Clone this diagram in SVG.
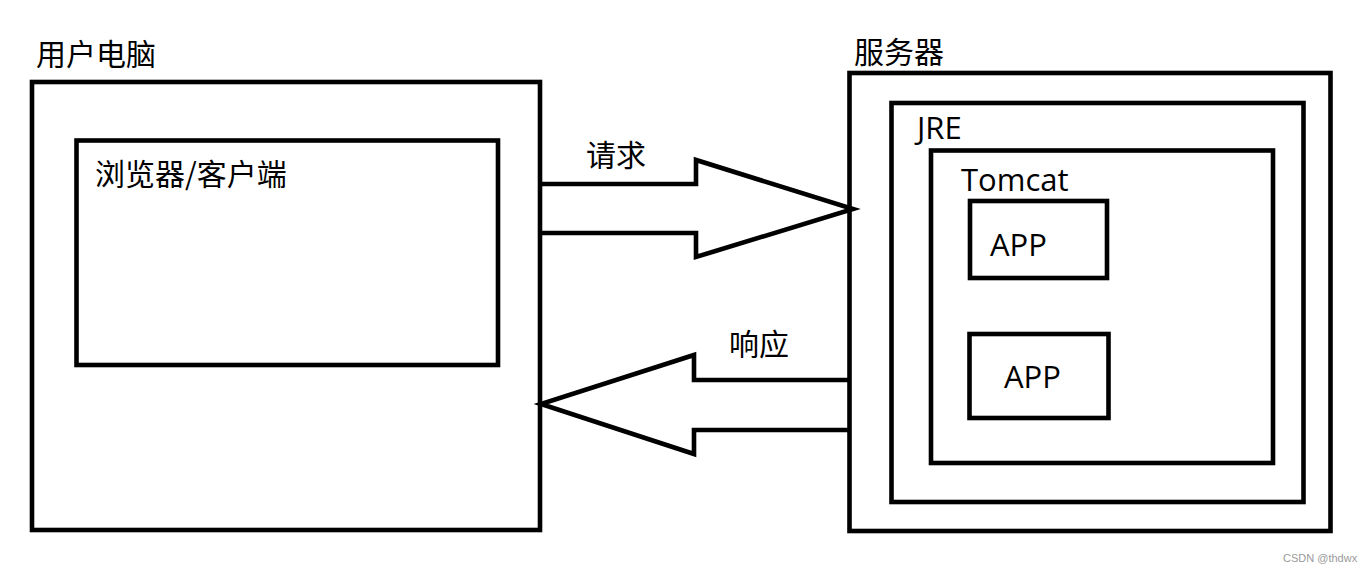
<svg xmlns="http://www.w3.org/2000/svg" width="1367" height="572" viewBox="0 0 1367 572">
<style>
.box{fill:none;stroke:#000;stroke-width:4.6}
.arrow{fill:none;stroke:#000;stroke-width:4.6;stroke-linejoin:miter}
.cn{font-family:"Noto Sans CJK SC","Noto Sans",sans-serif;font-size:30px;fill:#000}
.en{font-family:"Open Sans","Noto Sans",sans-serif;font-size:31px;fill:#000}
.wm{font-family:"Liberation Sans",Arial,sans-serif;font-size:11px;fill:#9a9a9a}
</style>
<rect width="1367" height="572" fill="#fff"/>
<g id="user-pc">
<rect class="box" x="32" y="82" width="508" height="448"/>
<text class="cn" x="36" y="65">用户电脑</text>
</g>
<g id="browser">
<rect class="box" x="76.5" y="140.5" width="421.5" height="224.5"/>
<text class="cn" x="95" y="185">浏览器/客户端</text>
</g>
<g id="server">
<rect class="box" x="849.5" y="73" width="481" height="458"/>
<text class="cn" x="854" y="63">服务器</text>
</g>
<g id="jre">
<rect class="box" x="891.5" y="103" width="412" height="399"/>
<text class="en" x="917" y="139">JRE</text>
</g>
<g id="tomcat">
<rect class="box" x="931" y="150.5" width="342" height="312.5"/>
<text class="en" x="961" y="191">Tomcat</text>
</g>
<g id="app1">
<rect class="box" x="970" y="201" width="137" height="77"/>
<text class="en" x="990" y="256">APP</text>
</g>
<g id="app2">
<rect class="box" x="969.5" y="334" width="139" height="84"/>
<text class="en" x="1004" y="388">APP</text>
</g>
<g id="connectors">
<polyline class="arrow" points="540,184 696,184 696,160 853,209 696,257 696,233 540,233"/>
<text class="cn" x="586" y="166">请求</text>
<polyline class="arrow" points="849,380 694,380 694,355 541,404 694,454 694,430 849,430"/>
<text class="cn" x="729" y="355">响应</text>
</g>
<text class="wm" x="1283" y="562">CSDN @thdwx</text>
</svg>
